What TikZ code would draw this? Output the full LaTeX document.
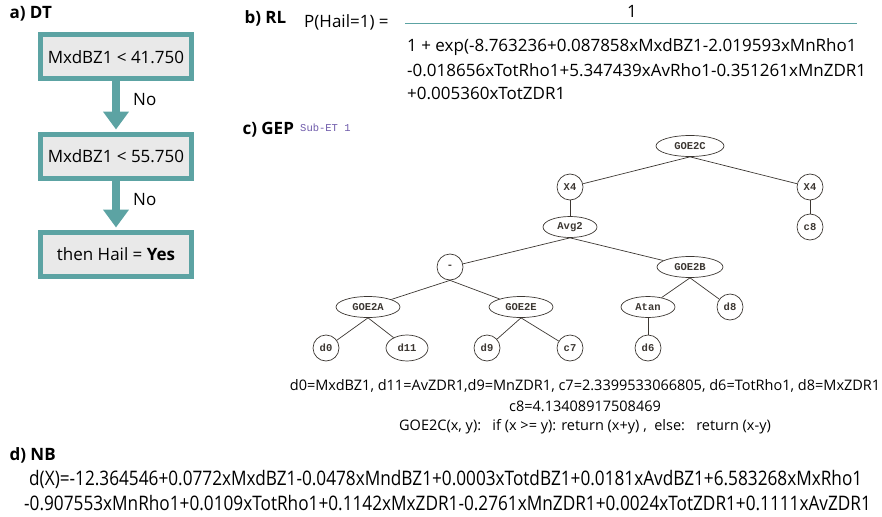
\documentclass[tikz,border=0pt]{standalone}
\usepackage{fontspec}
\setmainfont{Open Sans}
\newfontfamily\treefont{Liberation Mono}
\newfontfamily\narrowfont{Open Sans}[FakeStretch=0.86]
\usetikzlibrary{positioning,shapes.geometric,arrows.meta}

\definecolor{dtteal}{RGB}{92,163,163}
\definecolor{dtfill}{RGB}{233,233,233}
\definecolor{subet}{RGB}{110,90,170}
\definecolor{gepline}{RGB}{60,55,50}

\tikzset{
  paneltitle/.style={anchor=west,font=\fontsize{17}{20}\selectfont\bfseries},
  dtbox/.style={draw=dtteal,line width=5pt,fill=dtfill,minimum width=151pt,minimum height=44pt,font=\fontsize{17}{20}\selectfont},
  dtarrow/.style={draw=dtteal,line width=8pt,-{Triangle[width=25pt,length=18pt]}},
  eqline/.style={anchor=west,inner sep=0pt,font=\fontsize{17}{20}\selectfont},
  nbline/.style={anchor=west,inner sep=0pt,font=\narrowfont\fontsize{20}{22}\selectfont},
  geptext/.style={inner sep=0pt,font=\fontsize{14.5}{18}\selectfont},
  gepop/.style={draw=gepline,line width=0.7pt,ellipse,inner sep=0pt,minimum width=#1,minimum height=21pt,text=gepline,font=\treefont\bfseries\fontsize{10.5}{11}\selectfont},
  gepleaf/.style={gepop=26pt,minimum height=26pt},
  gepedge/.style={draw=gepline,line width=0.7pt}
}

\begin{document}
\begin{tikzpicture}[x=1pt,y=-1pt]
\useasboundingbox (0,0) rectangle (882,516);

\node[paneltitle] (titleA) at (6,14) {a) DT};
\node[dtbox] (box1) at (116,57) {MxdBZ1 < 41.750};
\node[dtbox] (box2) at (116,156) {MxdBZ1 < 55.750};
\node[dtbox] (box3) at (116,254) {then Hail = \textbf{Yes}};
\draw[dtarrow,shorten >=2pt] (box1.south) -- (box2.north);
\draw[dtarrow,shorten >=2pt] (box2.south) -- (box3.north);
\node[eqline] (no1) at (133,100) {No};
\node[eqline] (no2) at (133,200) {No};

\node[paneltitle] (titleB) at (241,18) {b) RL};
\node[eqline] (prob) at (304,22) {P(Hail=1) =};
\coordinate (fracL) at (405,24);
\coordinate (fracR) at (857,24);
\draw[dtteal,line width=1pt] (fracL) -- (fracR);
\node[eqline,anchor=center] (numer) at (632,11) {1};
\node[eqline] (denom1) at (407,47) {1 + exp(-8.763236+0.087858xMxdBZ1-2.019593xMnRho1};
\node[eqline] (denom2) at (407,70) {-0.018656xTotRho1+5.347439xAvRho1-0.351261xMnZDR1};
\node[eqline] (denom3) at (407,93) {+0.005360xTotZDR1};

\node[paneltitle] (titleC) at (239,130) {c) GEP};
\node[anchor=west,inner sep=0pt,text=subet,font=\treefont\fontsize{10.5}{11}\selectfont] (subet) at (300,128) {Sub-ET 1};
\node[gepop=68pt] (goe2c) at (690,146) {GOE2C};
\node[gepleaf] (x4a) at (570,187) {X4};
\node[gepleaf] (x4b) at (810,187) {X4};
\node[gepop=54pt] (avg2) at (570,227) {Avg2};
\node[gepleaf] (c8) at (810,227) {c8};
\node[gepleaf] (minus) at (450,267) {-};
\node[gepop=66pt] (goe2b) at (690,267) {GOE2B};
\node[gepop=64pt] (goe2a) at (368,307) {GOE2A};
\node[gepop=64pt] (goe2e) at (521,307) {GOE2E};
\node[gepop=54pt] (atan) at (648,307) {Atan};
\node[gepleaf] (d8) at (730,307) {d8};
\node[gepleaf] (d0) at (326,348) {d0};
\node[gepop=42pt,minimum height=26pt] (d11) at (407,348) {d11};
\node[gepleaf] (d9) at (487,348) {d9};
\node[gepleaf] (c7) at (570,348) {c7};
\node[gepleaf] (d6) at (648,348) {d6};
\foreach \p/\c in {goe2c/x4a,goe2c/x4b,x4a/avg2,x4b/c8,avg2/minus,avg2/goe2b,minus/goe2a,minus/goe2e,goe2b/atan,goe2b/d8,goe2a/d0,goe2a/d11,goe2e/d9,goe2e/c7,atan/d6}
  \draw[gepedge] (\p.south) -- (\c);
\node[geptext] (legend1) at (585,386) {d0=MxdBZ1, d11=AvZDR1,d9=MnZDR1, c7=2.3399533066805, d6=TotRho1, d8=MxZDR1};
\node[geptext] (legend2) at (585,406) {c8=4.13408917508469};
\node[geptext] (legend3) at (585,427) {GOE2C(x, y):\ \ \ if (x >= y): return (x+y) ,\ \ else:\ \ \ return (x-y)};

\node[paneltitle] (titleD) at (6,455) {d) NB};
\node[nbline] (nb1) at (29,479) {d(X)=-12.364546+0.0772xMxdBZ1-0.0478xMndBZ1+0.0003xTotdBZ1+0.0181xAvdBZ1+6.583268xMxRho1};
\node[nbline] (nb2) at (24,503) {-0.907553xMnRho1+0.0109xTotRho1+0.1142xMxZDR1-0.2761xMnZDR1+0.0024xTotZDR1+0.1111xAvZDR1};
\end{tikzpicture}
\end{document}
